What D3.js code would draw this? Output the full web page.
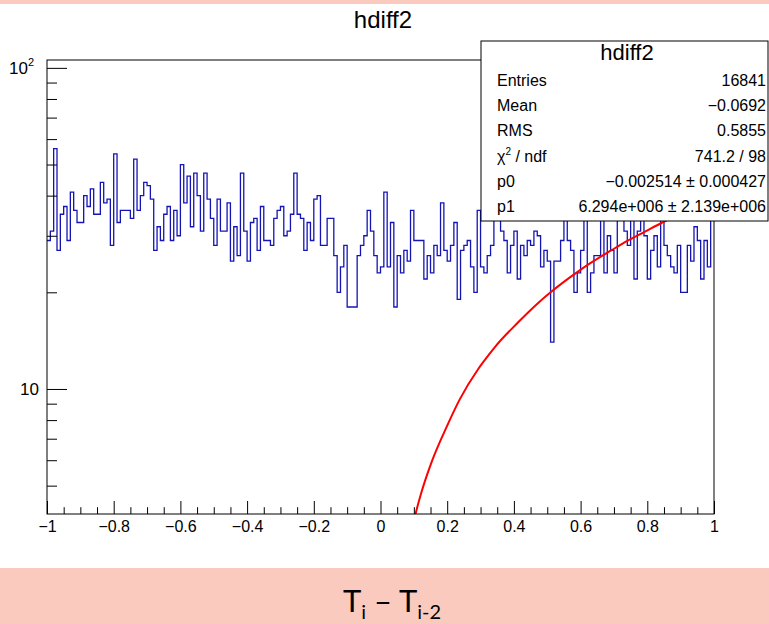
<!DOCTYPE html>
<html>
<head>
<meta charset="utf-8">
<script src="https://cdn.jsdelivr.net/npm/d3@7"></script>
<style>
  body { margin: 0; background: #fbcabe; }
  svg { display: block; font-family: "Liberation Sans", Arial, sans-serif; }
</style>
</head>
<body>
<div id="chart"></div>
<script>
// histogram contents, 200 bins between -1 and 1
const histRange = [-1, 1];
const binCounts = [
  29, 31, 56, 27, 35, 37, 29, 41, 36, 33,
  33, 40, 37, 42, 35, 35, 44, 38, 39, 28,
  54, 33, 36, 36, 36, 34, 52, 36, 40, 44,
  43, 39, 27, 32, 29, 35, 37, 29, 36, 30,
  50, 38, 46, 32, 47, 40, 31, 47, 39, 34,
  28, 39, 31, 31, 38, 25, 32, 26, 47, 31,
  25, 33, 34, 27, 37, 29, 29, 28, 34, 36,
  37, 30, 31, 35, 47, 35, 34, 27, 33, 29,
  39, 40, 28, 28, 34, 34, 26, 20, 24, 28,
  18, 18, 18, 26, 28, 30, 36, 31, 26, 23,
  24, 41, 24, 33, 18, 26, 23, 27, 25, 36,
  29, 29, 29, 22, 26, 23, 28, 26, 38, 27,
  25, 28, 33, 19, 27, 28, 29, 24, 20, 36,
  24, 23, 26, 28, 40, 42, 31, 29, 23, 28,
  31, 22, 28, 26, 29, 28, 31, 30, 24, 27,
  25, 14, 25, 25, 29, 38, 29, 27, 20, 23,
  27, 40, 20, 23, 26, 26, 36, 23, 30, 27,
  23, 38, 44, 31, 28, 36, 22, 31, 35, 30,
  22, 27, 30, 24, 39, 28, 26, 24, 23, 28,
  20, 20, 28, 25, 32, 29, 22, 29, 24, 40
];

// red fit curve
const fitX = [0.08, 0.105, 0.121, 0.154, 0.199, 0.238, 0.292, 0.328, 0.343, 0.412, 0.472, 0.510, 0.592, 0.628, 0.694, 0.727, 0.796, 0.838, 0.90];
const fitY = [3.1, 4.08, 4.7, 5.95, 7.65, 9.3, 11.5, 12.9, 13.5, 16.1, 18.5, 20.0, 23.2, 24.6, 27.1, 28.4, 31.0, 32.7, 35.1];

// axes
const xTicks = [-1, -0.8, -0.6, -0.4, -0.2, 0, 0.2, 0.4, 0.6, 0.8, 1];
const yTicks = [10, 100];
const yMinorTicks = [5, 6, 7, 8, 9, 20, 30, 40, 50, 60, 70, 80, 90];
const yDomain = [4.08, 105.8];

// stats box
const statsTitle = "hdiff2";
const statsLabels = ["Entries", "Mean", "RMS", "chi2", "p0", "p1"];
const statsValues = ["16841", "\u22120.0692", "0.5855", "741.2 / 98", "\u22120.002514 \u00b1 0.000427", "6.294e+006 \u00b1 2.139e+006"];

const W = 769, H = 624;
const frame = { left: 47, right: 714, top: 60, bottom: 514 };

const svg = d3.select("#chart")
  .append("svg")
    .attr("width", W)
    .attr("height", H);

// white canvas between the pink strips
svg.append("rect")
  .attr("x", 0).attr("y", 4)
  .attr("width", W).attr("height", 564)
  .attr("fill", "#ffffff");

// title
svg.append("text")
  .attr("x", 383).attr("y", 28)
  .attr("text-anchor", "middle")
  .attr("font-size", 24)
  .text("hdiff2");

const x = d3.scaleLinear().domain(histRange).range([frame.left, frame.right]);
const y = d3.scaleLog().domain(yDomain).range([frame.bottom, frame.top]);

svg.append("clipPath").attr("id", "plotclip")
  .append("rect")
    .attr("x", frame.left).attr("y", frame.top)
    .attr("width", frame.right - frame.left)
    .attr("height", frame.bottom - frame.top);

// histogram outline
const binWidth = (histRange[1] - histRange[0]) / binCounts.length;
const histPts = binCounts.map((c, i) => [histRange[0] + i * binWidth, c]);
histPts.push([histRange[1], binCounts[binCounts.length - 1]]);

svg.append("path")
  .datum(histPts)
  .attr("clip-path", "url(#plotclip)")
  .attr("fill", "none")
  .attr("stroke", "#1414b4")
  .attr("stroke-width", 1.3)
  .attr("d", d3.line()
    .x(d => x(d[0]))
    .y(d => y(d[1]))
    .curve(d3.curveStepAfter));

// fit
svg.append("path")
  .datum(fitX.map((v, i) => [v, fitY[i]]))
  .attr("clip-path", "url(#plotclip)")
  .attr("fill", "none")
  .attr("stroke", "#ff0000")
  .attr("stroke-width", 2)
  .attr("d", d3.line()
    .x(d => x(d[0]))
    .y(d => y(d[1]))
    .curve(d3.curveMonotoneX));

// x axis
const xMajor = svg.append("g")
  .attr("transform", `translate(0,${frame.bottom})`)
  .call(d3.axisBottom(x).tickValues(xTicks).tickSizeInner(-13).tickSizeOuter(0).tickPadding(7)
    .tickFormat(d3.format("")));
xMajor.select(".domain").remove();
xMajor.selectAll("text").attr("font-size", 16).attr("fill", "#000").attr("font-family", "Liberation Sans, Arial, sans-serif");

const xMinor = svg.append("g")
  .attr("transform", `translate(0,${frame.bottom})`)
  .call(d3.axisBottom(x).tickValues(x.ticks(40).filter(t => !xTicks.some(m => Math.abs(m - t) < 1e-9)))
    .tickSizeInner(-6.8).tickSizeOuter(0).tickFormat(""));
xMinor.select(".domain").remove();

// y axis
const yMajor = svg.append("g")
  .attr("transform", `translate(${frame.left},0)`)
  .call(d3.axisLeft(y).tickValues(yTicks).tickSizeInner(-20).tickSizeOuter(0).tickPadding(8)
    .tickFormat(d => d === 100 ? "10" : String(d)));
yMajor.select(".domain").remove();
yMajor.selectAll("text").attr("font-size", 17).attr("fill", "#000").attr("font-family", "Liberation Sans, Arial, sans-serif");
yMajor.selectAll(".tick").filter(d => d === 100).select("text")
  .attr("x", -13)
  .append("tspan")
    .attr("font-size", 11)
    .attr("dy", "-0.7em")
    .text("2");

const yMinor = svg.append("g")
  .attr("transform", `translate(${frame.left},0)`)
  .call(d3.axisLeft(y).tickValues(yMinorTicks).tickSizeInner(-10).tickSizeOuter(0).tickFormat(""));
yMinor.select(".domain").remove();

svg.selectAll(".tick line").attr("stroke", "#000");

// frame
svg.append("rect")
  .attr("x", frame.left).attr("y", frame.top)
  .attr("width", frame.right - frame.left)
  .attr("height", frame.bottom - frame.top)
  .attr("fill", "none")
  .attr("stroke", "#000")
  .attr("stroke-width", 1);

// stats box
const box = { left: 481, top: 41, right: 768, bottom: 221 };
svg.append("rect")
  .attr("x", box.left).attr("y", box.top)
  .attr("width", box.right - box.left).attr("height", box.bottom - box.top)
  .attr("fill", "#fff")
  .attr("stroke", "#000")
  .attr("stroke-width", 1);

svg.append("text")
  .attr("x", 627).attr("y", 60)
  .attr("text-anchor", "middle")
  .attr("font-size", 22)
  .text(statsTitle);

statsLabels.forEach((lab, i) => {
  const by = 86 + i * 25.2;
  const t = svg.append("text")
    .attr("x", 497).attr("y", by)
    .attr("font-size", 16);
  if (lab === "chi2") {
    t.append("tspan").text("\u03c7");
    t.append("tspan").attr("font-size", 10).attr("dy", -7).text("2");
    t.append("tspan").attr("dy", 7).text(" / ndf");
  } else {
    t.text(lab);
  }
  svg.append("text")
    .attr("x", 766).attr("y", by)
    .attr("text-anchor", "end")
    .attr("font-size", 16)
    .text(statsValues[i]);
});

// slide caption below the canvas
const cap = svg.append("text")
  .attr("x", 392).attr("y", 612)
  .attr("text-anchor", "middle")
  .attr("font-family", "Lato, 'Open Sans', sans-serif")
  .attr("font-size", 31)
  .attr("fill", "#000");
cap.append("tspan").text("T");
cap.append("tspan").attr("font-size", 20).attr("dy", 7).text("i");
cap.append("tspan").attr("dy", -7).text(" \u2013 T");
cap.append("tspan").attr("font-size", 20).attr("dy", 7).text("i-2");
</script>
</body>
</html>
